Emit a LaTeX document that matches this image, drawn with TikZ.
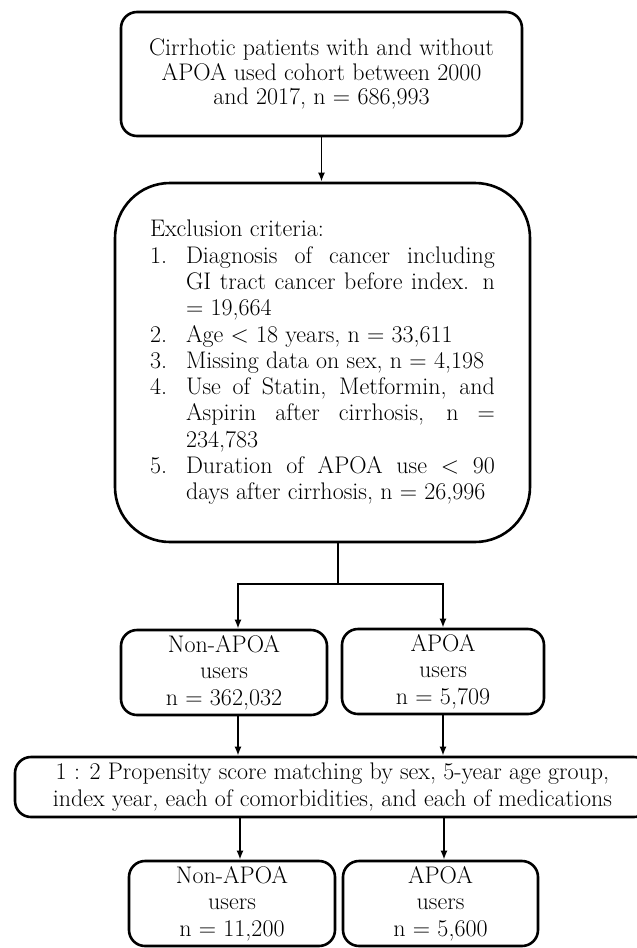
\documentclass[tikz,border=0pt]{standalone}
\usetikzlibrary{arrows.meta}
\begin{document}
\begin{tikzpicture}[x=1pt,y=-1pt,
  box/.style={draw=black, line width=2.6pt, rounded corners=16pt, inner sep=0pt, align=center,
              font=\fontsize{24}{26.5}\selectfont},
  conn/.style={line width=1.9pt},
  arr/.style={line width=1.9pt, -{Latex[length=9pt,width=7pt]}}]
\path[use as bounding box] (0,0) rectangle (637,948);
\clip (0,0) rectangle (637,948);
% top box
\node[box, minimum width=401pt, minimum height=124pt, font=\fontsize{24}{24.5}\selectfont]
  (top) at (321.5,74) {\raisebox{-5pt}{\parbox{380pt}{\centering Cirrhotic patients with and without\\APOA used cohort between 2000\\and 2017, n = 686,993}}};
% exclusion box
\node[box, rounded corners=55pt, minimum width=415pt, minimum height=359pt]
  (excl) at (322.5,362.5) {\parbox{345pt}{\raggedright\fontsize{24}{26.3}\selectfont
  Exclusion criteria:\\
  \makebox[36pt][l]{1.}\makebox[309pt][s]{Diagnosis of cancer including}\\
  \hspace*{36pt}\makebox[309pt][s]{GI tract cancer before index. n}\\
  \hspace*{36pt}= 19,664\\
  \makebox[36pt][l]{2.}Age < 18 years, n = 33,611\\
  \makebox[36pt][l]{3.}Missing data on sex, n = 4,198\\
  \makebox[36pt][l]{4.}\makebox[309pt][s]{Use of Statin, Metformin, and}\\
  \hspace*{36pt}\makebox[309pt][s]{Aspirin after cirrhosis, n =}\\
  \hspace*{36pt}234,783\\
  \makebox[36pt][l]{5.}\makebox[309pt][s]{Duration of APOA use < 90}\\
  \hspace*{36pt}days after cirrhosis, n = 26,996}};
% middle boxes
\node[box, minimum width=206pt, minimum height=85pt] (nonA) at (224,672.5) {Non-APOA\\users\\n = 362,032};
\node[box, minimum width=202pt, minimum height=85pt] (apoA) at (443,671.5) {APOA\\users\\n = 5,709};
% matching box
\node[box, minimum width=635pt, minimum height=60pt, font=\fontsize{24}{27}\selectfont] (match) at (332.5,787)
  {1 : 2 Propensity score matching by sex, 5-year age group,\\index year, each of comorbidities, and each of medications};
% bottom boxes
\node[box, minimum width=206pt, minimum height=85pt] (nonB) at (232,903.5) {Non-APOA\\users\\n = 11,200};
\node[box, minimum width=195pt, minimum height=85pt] (apoB) at (440.5,903.5) {APOA\\users\\n = 5,600};
% connectors
\draw[arr] (top.south) -- (excl.north -| top.south);
\coordinate (jm) at (338,584);
\coordinate (jl) at (238,584);
\coordinate (jr) at (443,584);
\draw[conn] (excl.south -| jm) -- (jm);
\draw[conn, line cap=rect] (jl) -- (jr);
\draw[arr] (jl) -- (nonA.north -| jl);
\draw[arr] (jr) -- (apoA.north -| jr);
\coordinate (ml) at (238,700);
\coordinate (mr) at (443,700);
\draw[arr] (nonA.south -| ml) -- (match.north -| ml);
\draw[arr] (apoA.south -| mr) -- (match.north -| mr);
\coordinate (bl) at (240,850);
\coordinate (br) at (444,850);
\draw[arr] (match.south -| bl) -- (nonB.north -| bl);
\draw[arr] (match.south -| br) -- (apoB.north -| br);
\end{tikzpicture}
\end{document}
